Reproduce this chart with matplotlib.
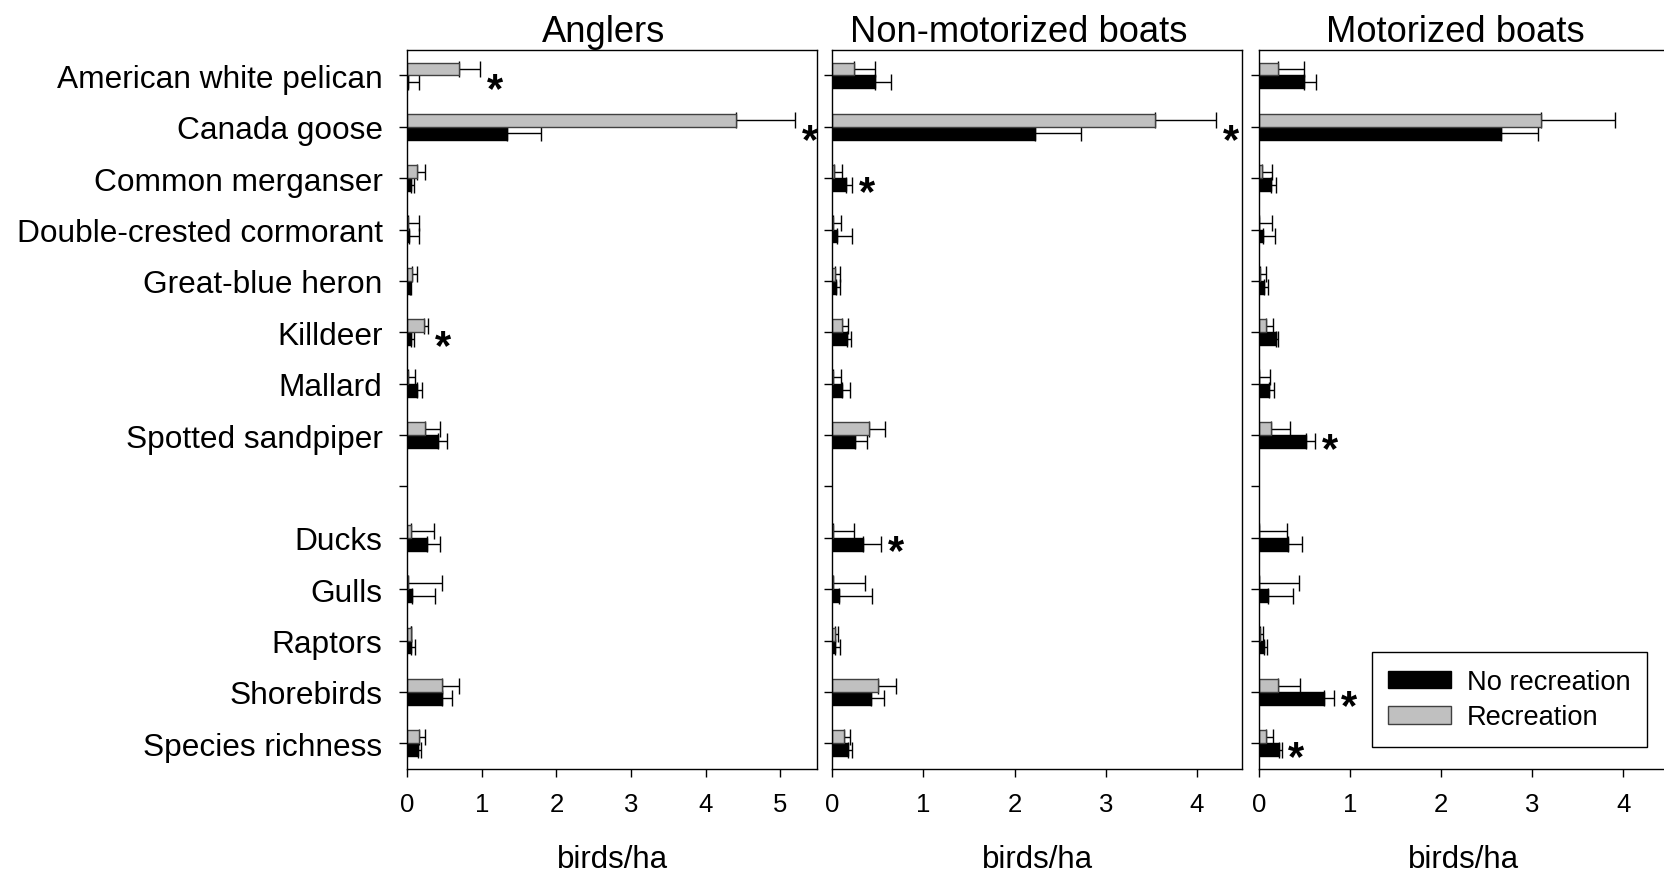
import numpy as np
import matplotlib
matplotlib.use("Agg")
import matplotlib.pyplot as plt

plt.rcParams['font.family'] = ['Liberation Sans', 'DejaVu Sans']

# categories (blank entry = gap between species and group summaries)
species = ["American white pelican", "Canada goose", "Common merganser",
           "Double-crested cormorant", "Great-blue heron", "Killdeer", "Mallard",
           "Spotted sandpiper", "", "Ducks", "Gulls", "Raptors", "Shorebirds",
           "Species richness"]
panels = ["Anglers", "Non-motorized boats", "Motorized boats"]
nan = np.nan

# mean birds/ha and SE, per panel: no recreation (black) / recreation (grey)
anglers_norec = [0.01, 1.34, 0.045, 0.02, 0.04, 0.054, 0.134, 0.416, nan, 0.27, 0.058, 0.054, 0.465, 0.143]
anglers_norec_se = [0.147, 0.45, 0.045, 0.14, 0.014, 0.036, 0.063, 0.121, nan, 0.164, 0.312, 0.044, 0.135, 0.037]
anglers_rec = [0.70, 4.41, 0.134, 0.005, 0.067, 0.224, 0.005, 0.237, nan, 0.05, 0.005, 0.05, 0.46, 0.16]
anglers_rec_se = [0.275, 0.79, 0.103, 0.155, 0.058, 0.056, 0.093, 0.203, nan, 0.31, 0.46, 0.004, 0.23, 0.077]

nonmotor_norec = [0.47, 2.22, 0.15, 0.05, 0.044, 0.157, 0.11, 0.245, nan, 0.337, 0.073, 0.03, 0.42, 0.172]
nonmotor_norec_se = [0.17, 0.51, 0.066, 0.166, 0.036, 0.048, 0.08, 0.132, nan, 0.198, 0.357, 0.054, 0.15, 0.044]
nonmotor_rec = [0.24, 3.54, 0.02, 0.005, 0.033, 0.11, 0.005, 0.40, nan, 0.005, 0.005, 0.03, 0.505, 0.13]
nonmotor_rec_se = [0.23, 0.67, 0.09, 0.095, 0.051, 0.06, 0.095, 0.18, nan, 0.229, 0.358, 0.029, 0.195, 0.064]

motor_norec = [0.495, 2.66, 0.13, 0.05, 0.06, 0.187, 0.11, 0.516, nan, 0.32, 0.10, 0.062, 0.714, 0.223]
motor_norec_se = [0.131, 0.40, 0.057, 0.13, 0.039, 0.029, 0.058, 0.104, nan, 0.16, 0.28, 0.033, 0.116, 0.03]
motor_rec = [0.216, 3.10, 0.037, 0.005, 0.015, 0.084, 0.005, 0.136, nan, 0.005, 0.005, 0.015, 0.216, 0.08]
motor_rec_se = [0.282, 0.805, 0.106, 0.138, 0.062, 0.073, 0.123, 0.208, nan, 0.305, 0.435, 0.035, 0.234, 0.074]

# rows with a significant difference (*)
anglers_sig = [0, 1, 5]
nonmotor_sig = [1, 2, 9]
motor_sig = [7, 12, 13]

xmax = [5.5, 4.5, 4.5]
xticks = [[0, 1, 2, 3, 4, 5], [0, 1, 2, 3, 4], [0, 1, 2, 3, 4]]

data = [(anglers_norec, anglers_norec_se, anglers_rec, anglers_rec_se, anglers_sig),
        (nonmotor_norec, nonmotor_norec_se, nonmotor_rec, nonmotor_rec_se, nonmotor_sig),
        (motor_norec, motor_norec_se, motor_rec, motor_rec_se, motor_sig)]

fig = plt.figure(figsize=(16.65, 8.79), dpi=100)
lefts = [0.2446, 0.4999, 0.7560]
width = 0.2463
bottom, height = 0.124, 0.8183
title_x = [0.479, 0.455, 0.48]  # titles sit a little left of centre in the original

pos = np.arange(len(species))
h = 0.25

for i, (norec, norec_se, rec, rec_se, sig) in enumerate(data):
    ax = fig.add_axes([lefts[i], bottom, width, height])
    norec = np.array(norec)
    rec = np.array(rec)
    norec_se = np.array(norec_se)
    rec_se = np.array(rec_se)
    ok = ~np.isnan(norec)

    ax.errorbar(rec[ok], pos[ok] - h / 2, xerr=[np.zeros(ok.sum()), rec_se[ok]],
                fmt='none', ecolor='black', elinewidth=1.0, capsize=6, capthick=1.0, zorder=1)
    ax.errorbar(norec[ok], pos[ok] + h / 2, xerr=[np.zeros(ok.sum()), norec_se[ok]],
                fmt='none', ecolor='black', elinewidth=1.0, capsize=6, capthick=1.0, zorder=1)
    b_norec = ax.barh(pos[ok] + h / 2, norec[ok], height=h, color='black',
                      edgecolor='black', linewidth=1.0, zorder=2, label='No recreation')
    b_rec = ax.barh(pos[ok] - h / 2, rec[ok], height=h, color='#c0c0c0',
                    edgecolor='#404040', linewidth=1.0, zorder=2, label='Recreation')

    for r in sig:
        xend = max(norec[r] + norec_se[r], rec[r] + rec_se[r])
        ax.annotate('*', xy=(xend, r), xytext=(10.5, -18.5), textcoords='offset points',
                    ha='center', va='baseline', fontsize=30, fontweight='bold')

    ax.set_xlim(0, xmax[i])
    ax.set_ylim(len(species) - 0.5, -0.5)
    ax.set_xticks(xticks[i])
    ax.set_yticks(pos)
    ax.set_yticklabels(species if i == 0 else [''] * len(species))
    ax.tick_params(axis='both', direction='out', length=5.8, width=1.0, colors='black')
    ax.tick_params(axis='y', labelsize=22.8, pad=12)
    ax.tick_params(axis='x', labelsize=18.5, pad=11)
    for sp in ax.spines.values():
        sp.set_linewidth(1.0)
    ax.set_title(panels[i], fontsize=26.2, pad=6, x=title_x[i])
    ax.set_xlabel('birds/ha', fontsize=22.5, labelpad=20)

    if i == 2:
        leg = ax.legend([b_norec, b_rec], ['No recreation', 'Recreation'],
                        loc='lower right', bbox_to_anchor=(0.9894, 0.1487),
                        bbox_transform=fig.transFigure, borderaxespad=0,
                        fontsize=19.6, handlelength=2.3, handleheight=0.62,
                        handletextpad=0.58, labelspacing=0.34, borderpad=0.62,
                        fancybox=False, framealpha=1, edgecolor='black')
        leg.get_frame().set_linewidth(1.0)

plt.savefig('out.png', dpi=100)
